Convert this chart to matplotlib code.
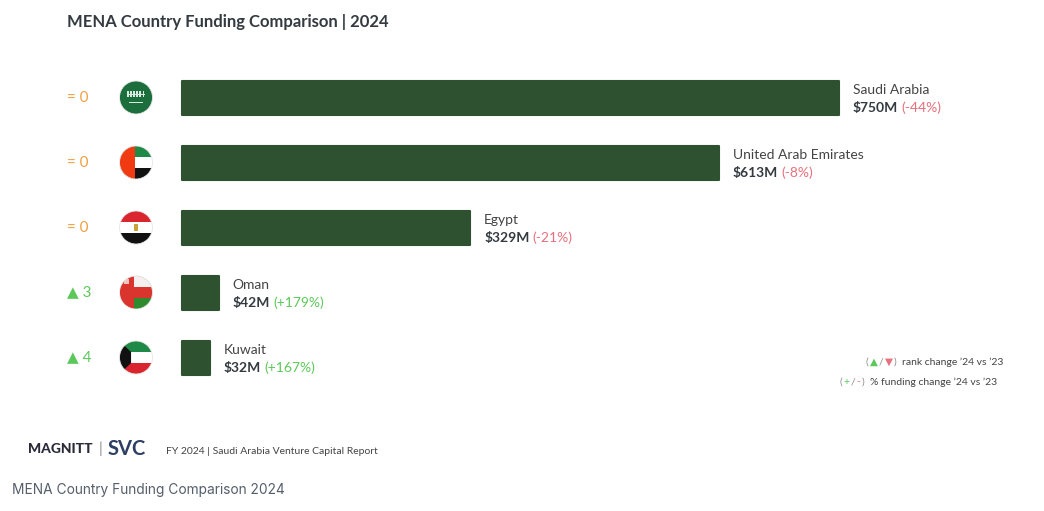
import numpy as np
import matplotlib.pyplot as plt
from matplotlib.patches import Ellipse, Rectangle, Polygon

plt.rcParams['font.family'] = ['Lato', 'DejaVu Sans']

# data
countries = ['Saudi Arabia', 'United Arab Emirates', 'Egypt', 'Oman', 'Kuwait']
funding = [750, 613, 329, 42, 32]            # $M, 2024
funding_change = ['-44%', '-8%', '-21%', '+179%', '+167%']
rank_change = ['= 0', '= 0', '= 0', '\u25b2 3', '\u25b2 4']
flag_codes = ['sa', 'ae', 'eg', 'om', 'kw']

W, H = 1044, 511
bar_color = '#2e5230'
red = '#e8707c'
green = '#5cc85a'
orange = '#f0a040'
dark = '#333a40'

fig = plt.figure(figsize=(W / 100, H / 100), dpi=100)
ax = fig.add_axes([0, 0, 1, 1])

# pixel layout -> data scale
x0_px = 182
xs = (839 - x0_px) / 750.0     # px per $M
row_px = 65.0
top_px = 97.5
ax.set_xlim(-x0_px / xs, (W - x0_px) / xs)
ax.set_ylim((H - top_px) / row_px, -top_px / row_px)
ax.axis('off')

def px2x(px):
    return (px - x0_px) / xs

y = np.arange(len(countries))
ax.barh(y, funding, height=34 / row_px, left=0, color=bar_color,
        edgecolor=bar_color, linewidth=1.5, joinstyle='round')

# labels to the right of each bar (offset pixels: +y is up)
for i, (name, v, ch) in enumerate(zip(countries, funding, funding_change)):
    ax.annotate(name, xy=(v, i), xytext=(14, 8), textcoords='offset pixels',
                ha='left', va='center', fontsize=10, color='#444444')
    vt = ax.annotate('$%dM' % v, xy=(v, i), xytext=(14, -10), textcoords='offset pixels',
                     ha='left', va='center', fontsize=10, fontweight='bold', color=dark)
    ax.annotate('(%s)' % ch, xy=(1, 0.5), xycoords=vt, xytext=(2, 0),
                textcoords='offset points', ha='left', va='center', fontsize=10,
                color=red if ch.startswith('-') else green)

# rank change column
for i, r in enumerate(rank_change):
    ax.text(px2x(67), i, r, ha='left', va='center', fontsize=11,
            color=green if r.startswith('\u25b2') else orange)

# flags
rx = 16.5 / xs
ry = 16.5 / row_px

def draw_flag(code, yc):
    xc = px2x(136)
    circ = Ellipse((xc, yc), 2 * rx, 2 * ry, facecolor='none', edgecolor='none')
    ax.add_patch(circ)

    def rect(u0, v0, u1, v1, c):
        p = Rectangle((xc + u0 * rx, yc + v0 * ry), (u1 - u0) * rx, (v1 - v0) * ry,
                      facecolor=c, edgecolor='none')
        ax.add_patch(p)
        p.set_clip_path(circ)

    def poly(pts, c):
        p = Polygon([(xc + u * rx, yc + v * ry) for u, v in pts], closed=True,
                    facecolor=c, edgecolor='none')
        ax.add_patch(p)
        p.set_clip_path(circ)

    third = 2 / 3.0
    if code == 'sa':
        rect(-1, -1, 1, 1, '#1c6e3c')
        for k in range(6):
            rect(-0.55 + k * 0.19, -0.42, -0.45 + k * 0.19, -0.05, '#d8eadf')
        rect(-0.55, -0.2, 0.55, -0.14, '#d8eadf')
        rect(-0.45, 0.3, 0.45, 0.35, '#d8eadf')
    elif code == 'ae':
        rect(-1, -1, 1, -1 + third, '#1f8a48')
        rect(-1, -1 + third, 1, 1 - third, 'white')
        rect(-1, 1 - third, 1, 1, '#111111')
        rect(-1, -1, -0.05, 1, '#f03a12')
    elif code == 'eg':
        rect(-1, -1, 1, -1 + third, '#d9262e')
        rect(-1, -1 + third, 1, 1 - third, 'white')
        rect(-1, 1 - third, 1, 1, '#111111')
        rect(-0.12, -0.22, 0.12, 0.22, '#c9a23a')
    elif code == 'om':
        rect(-1, -1, 1, 1, '#d9342e')
        rect(-0.15, -1, 1, -1 + third, '#f4f0f0')
        rect(-0.15, 1 - third, 1, 1, '#2f8a2e')
        rect(-0.7, -0.8, -0.4, -0.5, '#f2c6c0')
    elif code == 'kw':
        rect(-1, -1, 1, -1 + third, '#1f8a48')
        rect(-1, -1 + third, 1, 1 - third, 'white')
        rect(-1, 1 - third, 1, 1, '#d9262e')
        poly([(-1, -1), (-0.3, -1 + third), (-0.3, 1 - third), (-1, 1)], '#111111')
    ax.add_patch(Ellipse((xc, yc), 2 * rx, 2 * ry, facecolor='none',
                         edgecolor='#e6e6e6', linewidth=0.6))

for i, code in enumerate(flag_codes):
    draw_flag(code, i)

# title
fig.text(67 / W, 1 - 22 / H, 'MENA Country Funding Comparison | 2024', ha='left',
         va='center', fontsize=12, fontweight='bold', color=dark)

# legend notes (bottom right), pieces chained left to right
def chain_annot(x_px, y_px, parts, size=7.5):
    prev = fig.text(x_px / W, 1 - y_px / H, parts[0][0], ha='left', va='center',
                    fontsize=size, color=parts[0][1])
    for k, (s, c) in enumerate(parts[1:]):
        gap = 4 if k == len(parts) - 2 else 0.8
        prev = ax.annotate(s, xy=(1, 0.5), xycoords=prev, xytext=(gap, 0),
                           textcoords='offset points', ha='left', va='center',
                           fontsize=size, color=c)
    return prev

gray = '#888888'
chain_annot(866, 362, [('(', gray), ('\u25b2', green), ('/', gray), ('\u25bc', red),
                       (')', gray), ('rank change \u201924 vs \u201923', '#444444')])
chain_annot(840, 382, [('(', gray), ('+', green), ('/', gray), ('-', red),
                       (')', gray), ('% funding change \u201924 vs \u201923', '#444444')])

# footer
mg = fig.text(28 / W, 1 - 449 / H, 'MAGNITT', ha='left', va='center', fontsize=10,
              fontweight='black', color='#2a2a38', fontstretch='condensed')
sep = ax.annotate('|', xy=(1, 0.5), xycoords=mg, xytext=(4, 0), textcoords='offset points',
                  ha='left', va='center', fontsize=11, color='#888888')
ax.annotate('SVC', xy=(1, 0.5), xycoords=sep, xytext=(4, 0), textcoords='offset points',
            ha='left', va='center', fontsize=14.5, fontweight='bold', color='#2d3e63')
fig.text(166 / W, 1 - 451 / H, 'FY 2024 | Saudi Arabia Venture Capital Report', ha='left',
         va='center', fontsize=7.5, color='#444444')

fig.text(12 / W, 1 - 490 / H, 'MENA Country Funding Comparison 2024', ha='left',
         va='center', fontsize=9.9, color='#555e6a', family=['Inter', 'DejaVu Sans'])

fig.savefig('out.png', dpi=100, facecolor='white')
